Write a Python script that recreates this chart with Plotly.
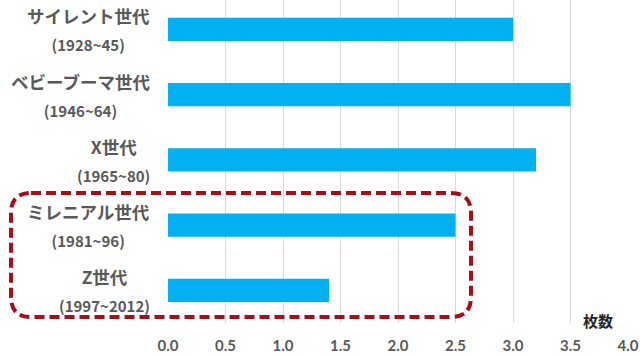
import plotly.graph_objects as go

# ---- data ----
generations = ["サイレント世代", "ベビーブーマ世代", "X世代", "ミレニアル世代", "Z世代"]
years = ["(1928~45)", "(1946~64)", "(1965~80)", "(1981~96)", "(1997~2012)"]
counts = [3.0, 3.5, 3.2, 2.5, 1.4]
x_ticks = [0.0, 0.5, 1.0, 1.5, 2.0, 2.5, 3.0, 3.5, 4.0]
x_title = "枚数"

W, H = 640, 356
ML, MR, MT, MB = 168, 12, 0, 33
PW, PH = W - ML - MR, H - MT - MB

JP = "Noto Sans CJK JP"
GRAY = "#595959"

fig = go.Figure()
fig.add_trace(go.Bar(
    y=list(range(len(generations))), x=counts, orientation="h",
    marker=dict(color="#00B0F0", line=dict(width=0)),
    width=0.355, hoverinfo="skip",
))

# category labels: two centred lines, block right-aligned next to the axis
for i, (g, yr) in enumerate(zip(generations, years)):
    fig.add_annotation(
        x=0, xref="x", y=i, yref="y", xanchor="right", yanchor="middle",
        xshift=-16, yshift=0, align="center", showarrow=False,
        text=f"<span style='font-size:17.5px'>{g}</span><br><span style='font-size:15px'>{yr}</span>",
        font=dict(family=JP, size=21.5, color=GRAY, weight="bold"),
    )

fig.add_annotation(
    x=3.74, xref="x", y=(PH - 320) / PH, yref="paper", showarrow=False,
    text=x_title, xanchor="center", yanchor="middle",
    font=dict(family=JP, size=15, color="#262626", weight="bold"),
)

# dashed rounded box around the last two generations (pixel geometry)
def px(x):
    return (x - ML) / PW

def py(y):
    return (MT + PH - y) / PH

x0, x1, y0, y1, r = 11, 471, 193, 317, 20
path = (
    f"M {px(x0 + r)},{py(y0)} L {px(x1 - r)},{py(y0)} "
    f"Q {px(x1)},{py(y0)} {px(x1)},{py(y0 + r)} "
    f"L {px(x1)},{py(y1 - r)} Q {px(x1)},{py(y1)} {px(x1 - r)},{py(y1)} "
    f"L {px(x0 + r)},{py(y1)} Q {px(x0)},{py(y1)} {px(x0)},{py(y1 - r)} "
    f"L {px(x0)},{py(y0 + r)} Q {px(x0)},{py(y0)} {px(x0 + r)},{py(y0)} Z"
)
fig.add_shape(type="path", path=path, xref="paper", yref="paper",
              line=dict(color="#A50F15", width=4, dash="10px,5px"))

fig.update_layout(
    width=W, height=H, margin=dict(l=ML, r=MR, t=MT, b=MB),
    plot_bgcolor="white", paper_bgcolor="white", showlegend=False,
    xaxis=dict(range=[0, 4.0], tickvals=x_ticks, tickformat=".1f",
               showgrid=True, gridcolor="#D9D9D9", gridwidth=1,
               zeroline=False, showline=False,
               ticks="outside", ticklen=9, tickcolor="rgba(0,0,0,0)",
               tickfont=dict(family="Lato", size=15, color=GRAY, weight="bold"),
               fixedrange=True),
    yaxis=dict(range=[4.5, -0.45], showticklabels=False, showgrid=False,
               zeroline=False, showline=False, fixedrange=True),
    bargap=0.64,
)

fig.write_html(
    "out.html",
    config={"displayModeBar": False},
    post_script="document.body.style.margin='0';document.body.style.overflow='hidden';",
)
